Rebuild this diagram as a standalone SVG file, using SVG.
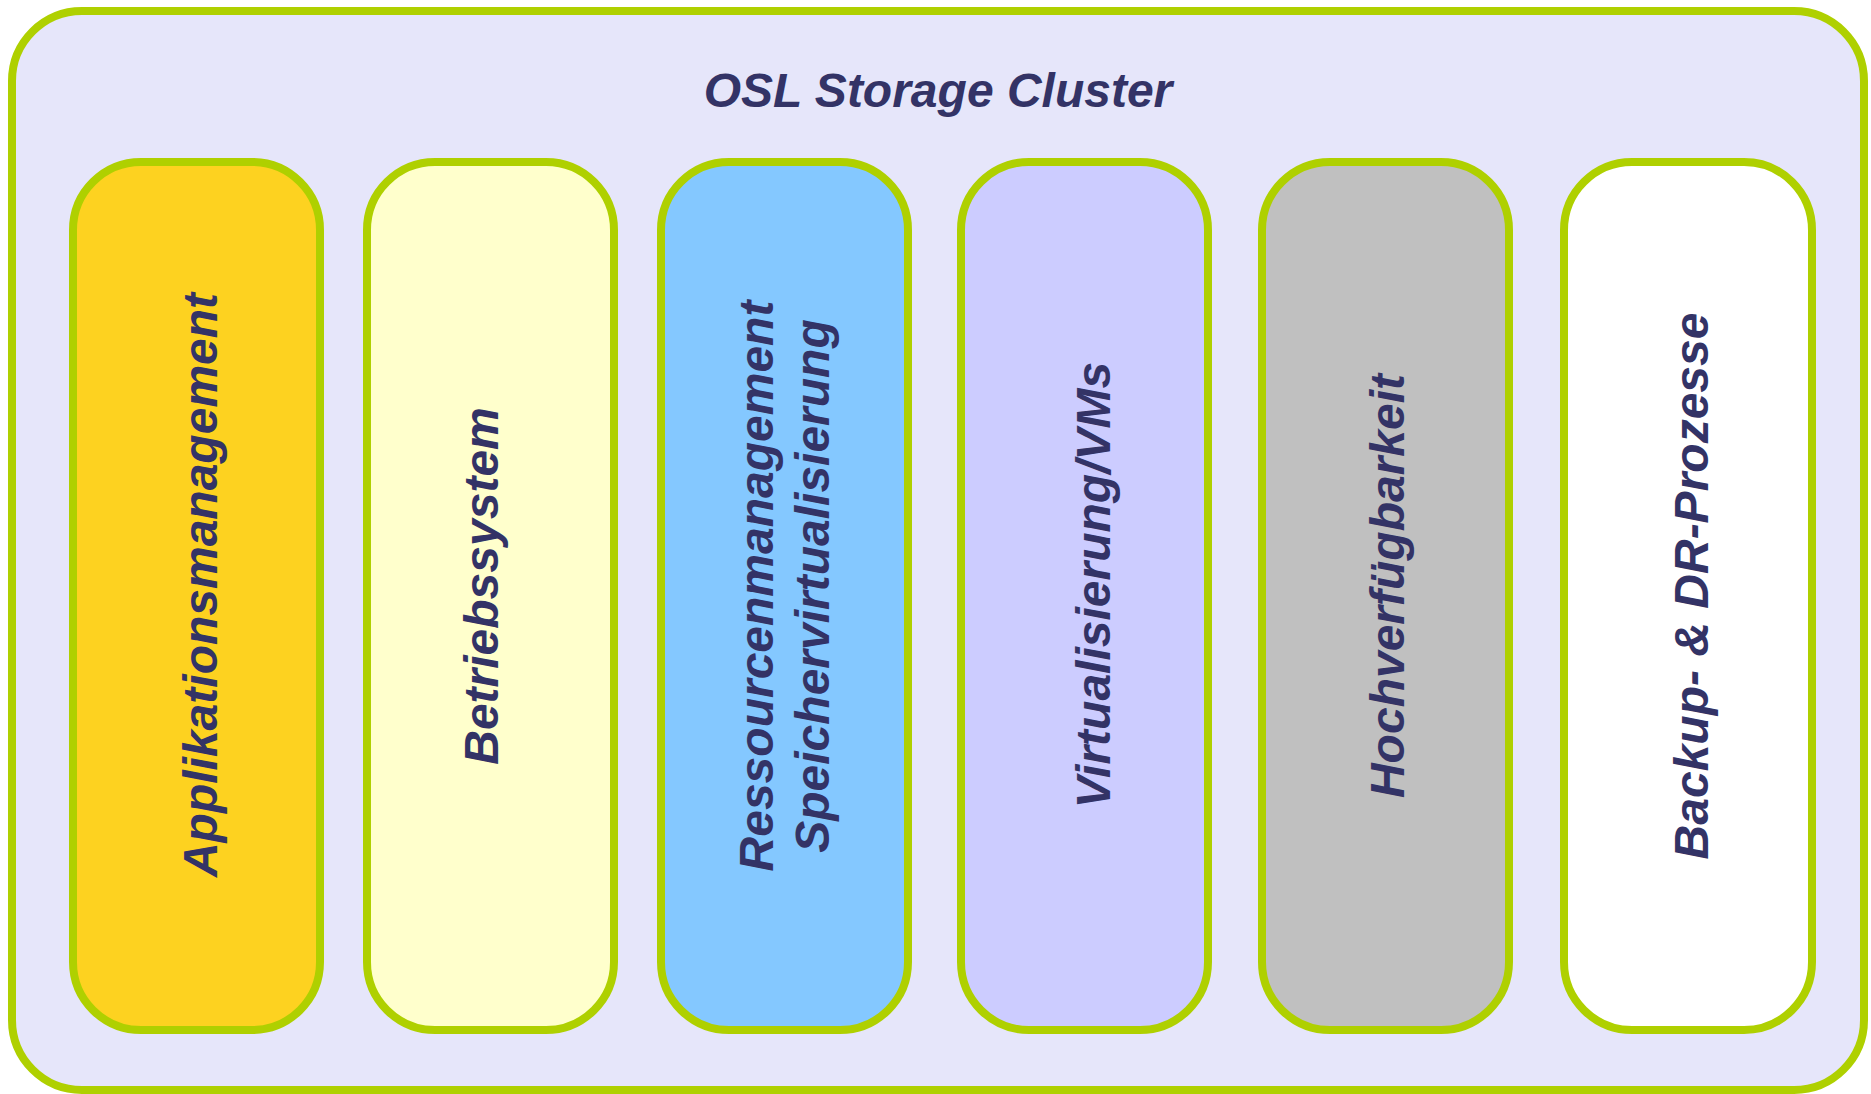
<svg xmlns="http://www.w3.org/2000/svg" width="1871" height="1094" viewBox="0 0 1871 1094">
  <style>
    .box { stroke: #AFD000; stroke-width: 8; }
    .lbl { font-family: "Liberation Sans", Arial, sans-serif; font-weight: bold; font-style: italic; font-size: 48px; fill: #333366; text-anchor: middle; }
  </style>
  <rect width="1871" height="1094" fill="#FFFFFF"/>
  <g id="cluster">
    <rect class="box" x="12" y="11" width="1852" height="1079" rx="70" ry="70" fill="#E6E6FA"/>
    <text class="lbl" x="938" y="107">OSL Storage Cluster</text>
  </g>
  <g id="applikationsmanagement">
    <rect class="box" x="73" y="162" width="247" height="868" rx="68" ry="68" fill="#FDD220"/>
    <text class="lbl" transform="translate(217,585) rotate(-90)">Applikationsmanagement</text>
  </g>
  <g id="betriebssystem">
    <rect class="box" x="367" y="162" width="247" height="868" rx="68" ry="68" fill="#FFFFCC"/>
    <text class="lbl" transform="translate(498,586) rotate(-90)">Betriebssystem</text>
  </g>
  <g id="ressourcenmanagement">
    <rect class="box" x="661" y="162" width="247" height="868" rx="68" ry="68" fill="#84C8FF"/>
    <text class="lbl" transform="translate(773,586) rotate(-90)">Ressourcenmanagement</text>
    <text class="lbl" transform="translate(829,586) rotate(-90)">Speichervirtualisierung</text>
  </g>
  <g id="virtualisierung">
    <rect class="box" x="961" y="162" width="247" height="868" rx="68" ry="68" fill="#CCCCFF"/>
    <text class="lbl" transform="translate(1110,585) rotate(-90)">Virtualisierung/VMs</text>
  </g>
  <g id="hochverfuegbarkeit">
    <rect class="box" x="1262" y="162" width="247" height="868" rx="68" ry="68" fill="#C0C0C0"/>
    <text class="lbl" transform="translate(1404,586) rotate(-90)">Hochverfügbarkeit</text>
  </g>
  <g id="backup">
    <rect class="box" x="1564" y="162" width="248" height="868" rx="68" ry="68" fill="#FFFFFF"/>
    <text class="lbl" transform="translate(1708,586) rotate(-90)">Backup- &amp; DR-Prozesse</text>
  </g>
  <g id="connectors"/>
</svg>
